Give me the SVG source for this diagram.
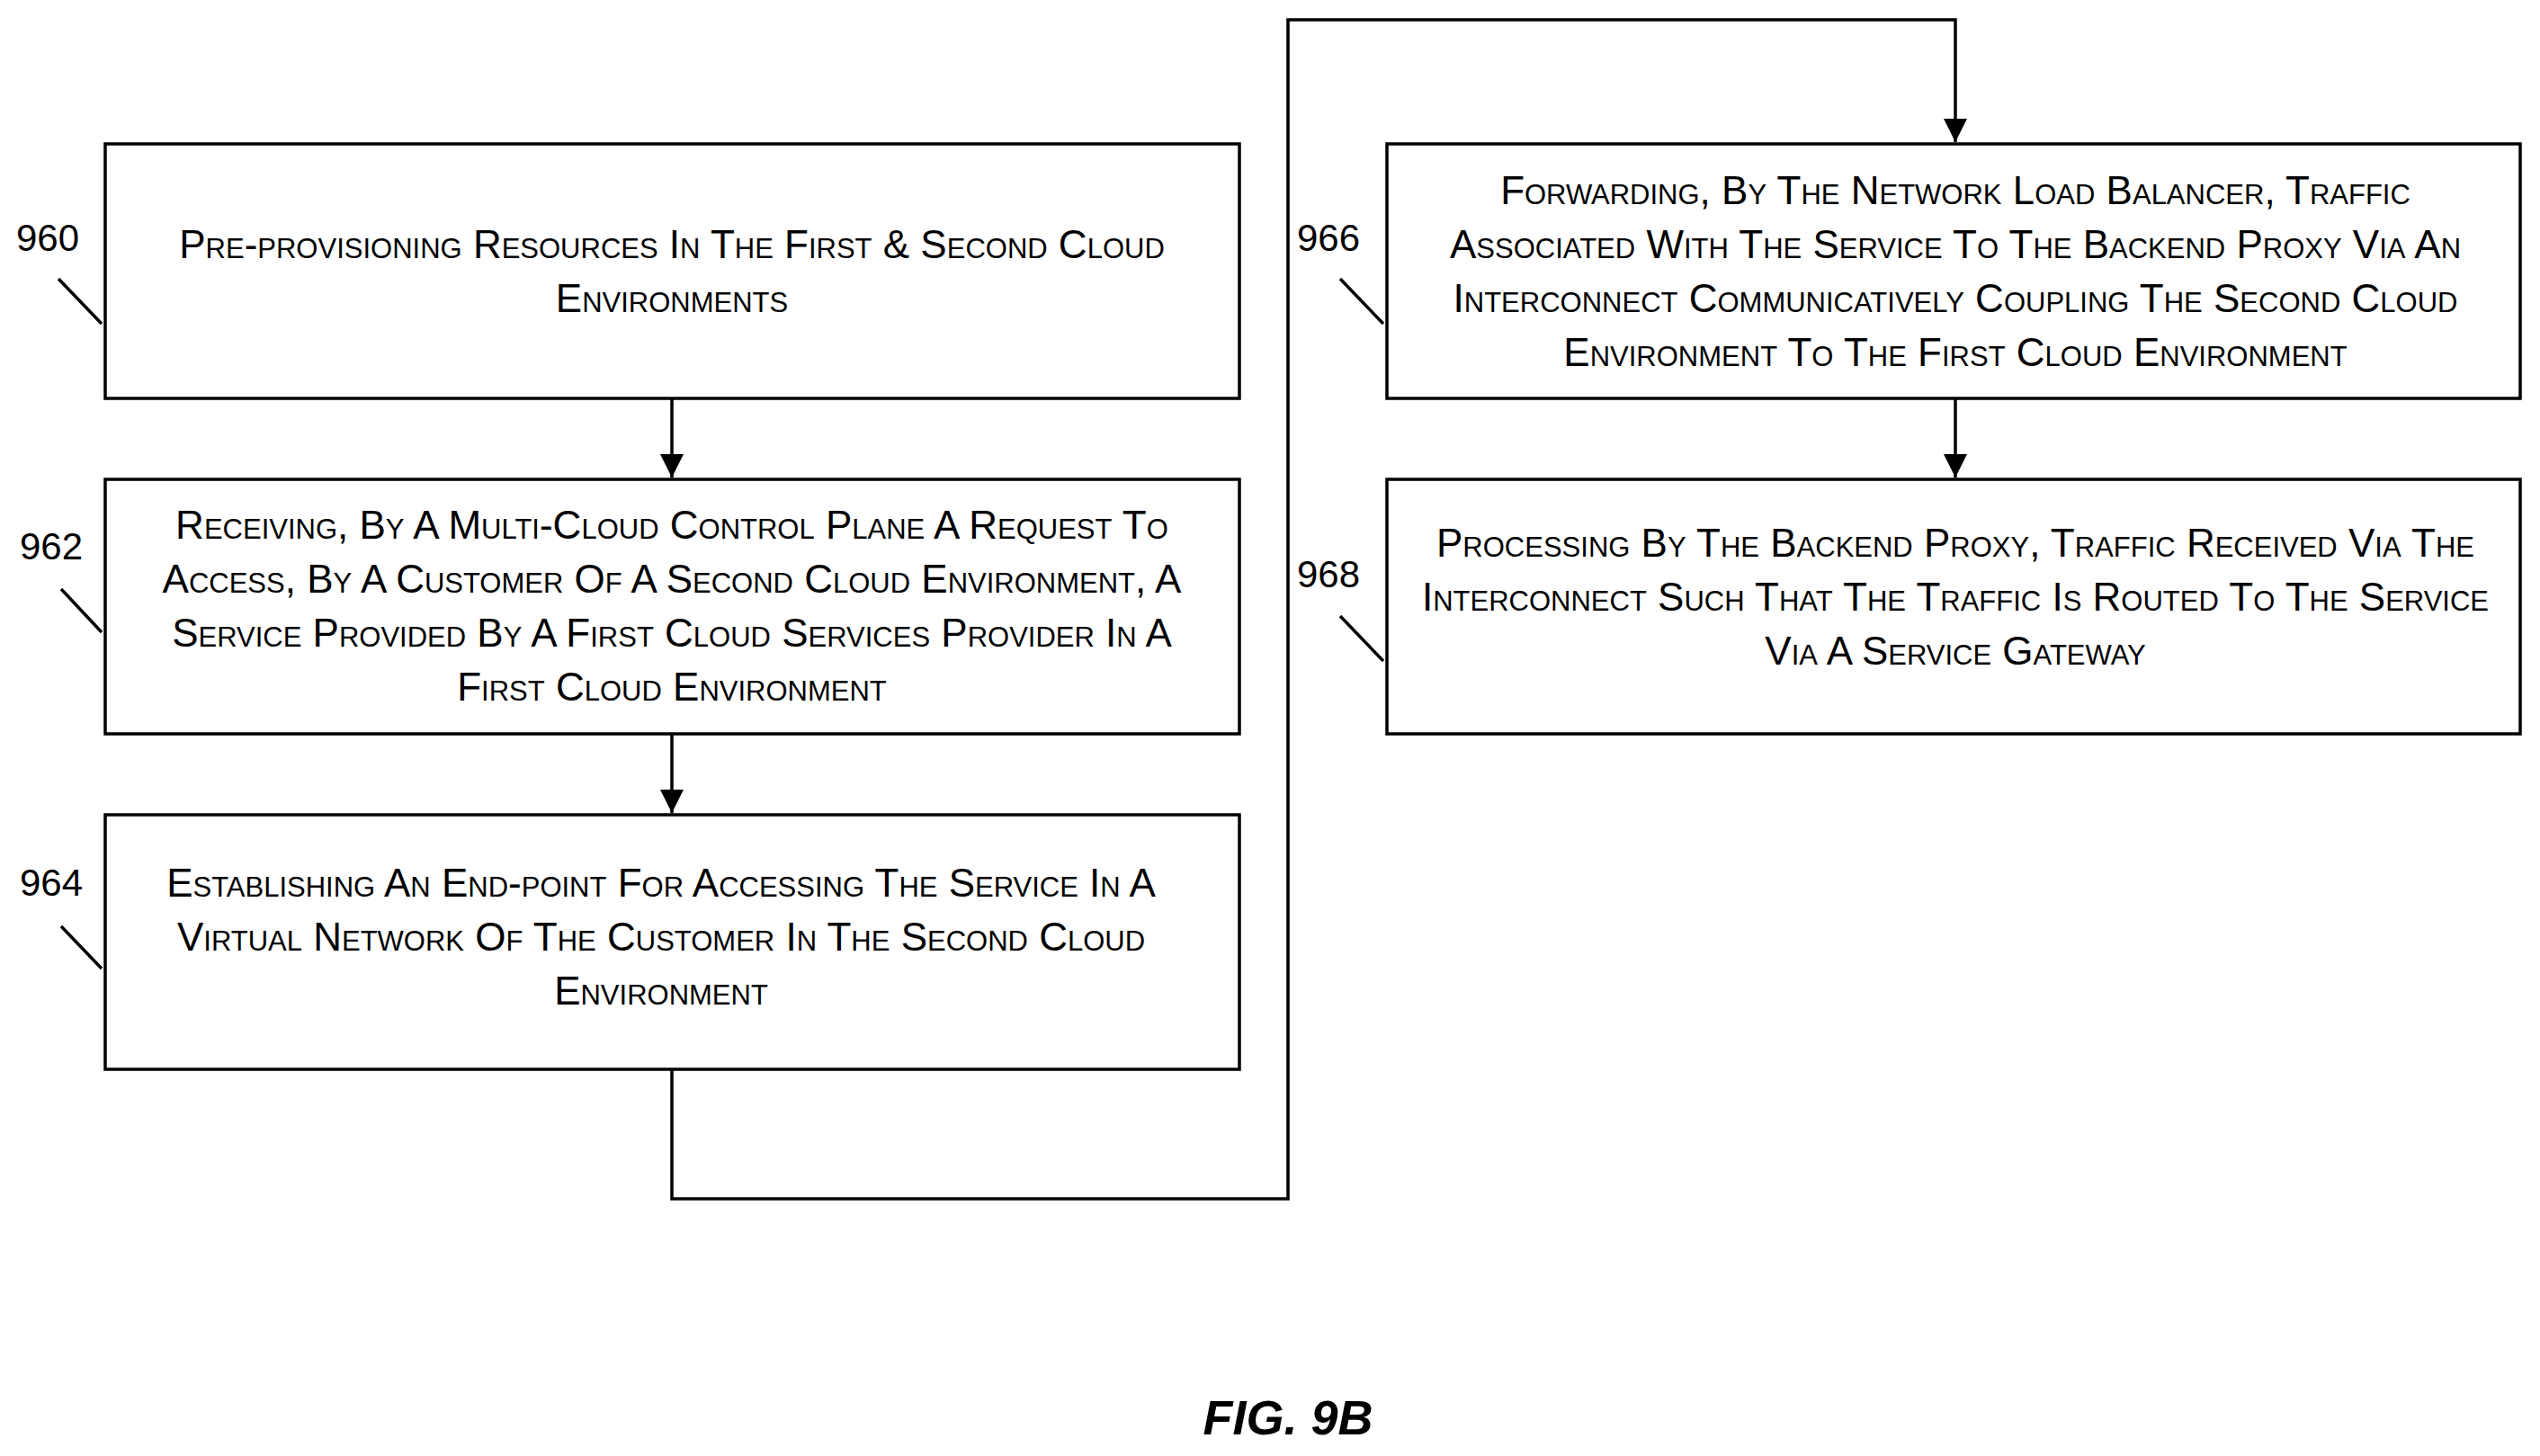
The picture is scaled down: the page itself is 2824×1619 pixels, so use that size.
<svg xmlns="http://www.w3.org/2000/svg" width="2824" height="1619" viewBox="0 0 2824 1619">
<defs>
<marker id="ah" markerWidth="10" markerHeight="10" refX="9" refY="5" orient="auto" markerUnits="userSpaceOnUse" viewBox="0 0 10 10"><path d="M0,0 L10,5 L0,10 z" fill="#000"/></marker>
<style>
.box{fill:#fff;stroke:#000;stroke-width:3.5}
.t{font-family:"Liberation Sans",Arial,sans-serif;font-size:44px;font-variant:small-caps;text-anchor:middle;fill:#000}
.n{font-family:"Liberation Sans",Arial,sans-serif;font-size:42px;fill:#000}
.c{fill:none;stroke:#000;stroke-width:3.5}
</style>
<marker id="a" markerWidth="26" markerHeight="36" refX="26" refY="13" orient="auto" markerUnits="userSpaceOnUse"><path d="M0,0 L26,13 L0,26 z" fill="#000"/></marker>
</defs>
<rect width="2824" height="1619" fill="#fff"/>
<g id="connectors">
<line class="c" x1="747" y1="443" x2="747" y2="531" marker-end="url(#a)"/>
<line class="c" x1="747" y1="816" x2="747" y2="904" marker-end="url(#a)"/>
<polyline class="c" points="747,1189 747,1333 1432,1333 1432,22 2174,22 2174,158" marker-end="url(#a)"/>
<line class="c" x1="2174" y1="443" x2="2174" y2="531" marker-end="url(#a)"/>
</g>
<g id="n960">
<rect class="box" x="117" y="160" width="1261" height="283"/>
<text class="t" x="747" y="287">Pre-provisioning Resources In The First &amp; Second Cloud</text>
<text class="t" x="747" y="347">Environments</text>
<text class="n" x="18" y="279">960</text>
<line class="c" x1="65" y1="310" x2="113" y2="360"/>
</g>
<g id="n962">
<rect class="box" x="117" y="533" width="1261" height="283"/>
<text class="t" x="747" y="599">Receiving, By A Multi-Cloud Control Plane A Request To</text>
<text class="t" x="747" y="659">Access, By A Customer Of A Second Cloud Environment, A</text>
<text class="t" x="747" y="719">Service Provided By A First Cloud Services Provider In A</text>
<text class="t" x="747" y="779">First Cloud Environment</text>
<text class="n" x="22" y="622">962</text>
<line class="c" x1="68" y1="655" x2="113" y2="703"/>
</g>
<g id="n964">
<rect class="box" x="117" y="906" width="1261" height="283"/>
<text class="t" x="735" y="997">Establishing An End-point For Accessing The Service In A</text>
<text class="t" x="735" y="1057">Virtual Network Of The Customer In The Second Cloud</text>
<text class="t" x="735" y="1117">Environment</text>
<text class="n" x="22" y="996">964</text>
<line class="c" x1="68" y1="1030" x2="113" y2="1077"/>
</g>
<g id="n966">
<rect class="box" x="1542" y="160" width="1260" height="283"/>
<text class="t" x="2174" y="227">Forwarding, By The Network Load Balancer, Traffic</text>
<text class="t" x="2174" y="287">Associated With The Service To The Backend Proxy Via An</text>
<text class="t" x="2174" y="347">Interconnect Communicatively Coupling The Second Cloud</text>
<text class="t" x="2174" y="407">Environment To The First Cloud Environment</text>
<text class="n" x="1442" y="279">966</text>
<line class="c" x1="1490" y1="310" x2="1538" y2="360"/>
</g>
<g id="n968">
<rect class="box" x="1542" y="533" width="1260" height="283"/>
<text class="t" x="2174" y="619">Processing By The Backend Proxy, Traffic Received Via The</text>
<text class="t" x="2174" y="679">Interconnect Such That The Traffic Is Routed To The Service</text>
<text class="t" x="2174" y="739">Via A Service Gateway</text>
<text class="n" x="1442" y="653">968</text>
<line class="c" x1="1490" y1="685" x2="1538" y2="735"/>
</g>
<text x="1432" y="1595" font-family="Liberation Sans,Arial,sans-serif" font-size="54" font-weight="bold" font-style="italic" text-anchor="middle">FIG. 9B</text>
</svg>
